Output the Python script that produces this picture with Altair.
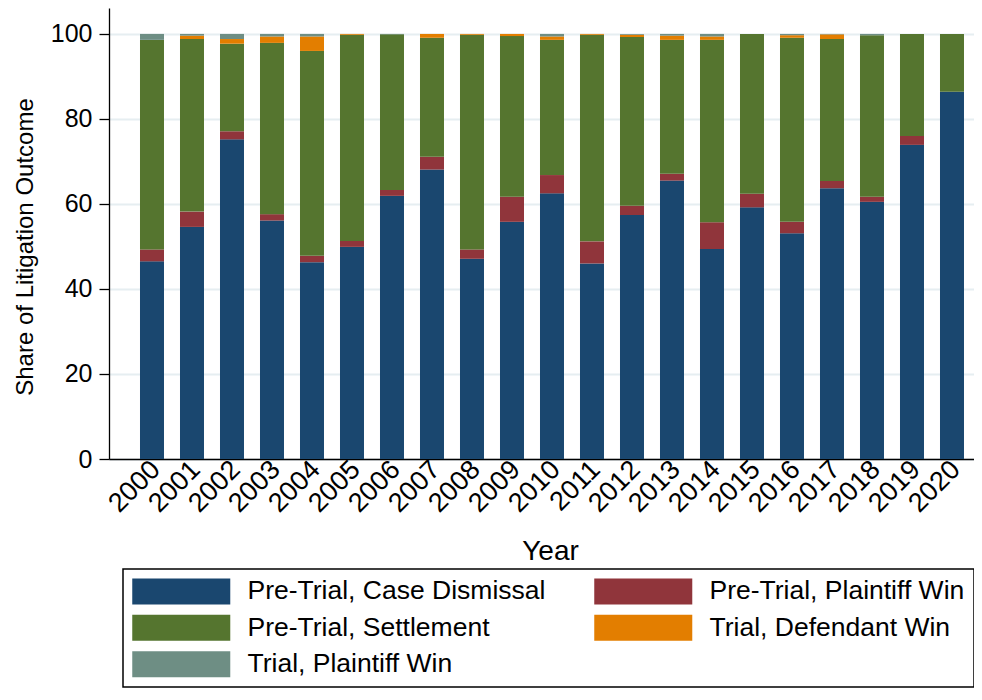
import altair as alt
import pandas as pd

years = [str(y) for y in range(2000, 2021)]
outcomes = [
    "Pre-Trial, Case Dismissal",
    "Pre-Trial, Plaintiff Win",
    "Pre-Trial, Settlement",
    "Trial, Defendant Win",
    "Trial, Plaintiff Win",
]
colors = ["#1a476f", "#90353b", "#55752f", "#e37e00", "#6e8e84"]

dismissal = [46.5, 54.6, 75.2, 56.1, 46.3, 49.9, 61.9, 68.1, 47.1, 55.8, 62.5,
             46.0, 57.4, 65.5, 49.4, 59.2, 53.1, 63.7, 60.5, 73.9, 86.4]
pre_plaintiff = [2.8, 3.6, 1.9, 1.5, 1.5, 1.4, 1.4, 3.0, 2.2, 5.9, 4.3,
                 5.2, 2.2, 1.6, 6.3, 3.2, 2.7, 1.7, 1.2, 2.1, 0.0]
settlement = [49.3, 40.6, 20.6, 40.3, 48.2, 48.5, 36.6, 28.0, 50.5, 37.8, 31.8,
              48.6, 39.7, 31.5, 42.9, 37.6, 43.3, 33.4, 38.0, 24.0, 13.6]
defendant_win = [0.0, 0.8, 1.1, 1.5, 3.4, 0.2, 0.0, 0.9, 0.2, 0.5, 0.8,
                 0.2, 0.5, 1.0, 0.8, 0.0, 0.6, 1.1, 0.0, 0.0, 0.0]
trial_plaintiff = [1.4, 0.4, 1.2, 0.6, 0.6, 0.0, 0.1, 0.0, 0.0, 0.0, 0.6,
                   0.0, 0.2, 0.4, 0.6, 0.0, 0.3, 0.1, 0.3, 0.0, 0.0]

series = [dismissal, pre_plaintiff, settlement, defendant_win, trial_plaintiff]

rows = []
for i, yr in enumerate(years):
    for k, (name, vals) in enumerate(zip(outcomes, series)):
        rows.append({"Year": yr, "Outcome": name, "Share": vals[i], "k": k})
df = pd.DataFrame(rows)

FONT = "Liberation Sans"

chart = (
    alt.Chart(df)
    .mark_bar()
    .encode(
        x=alt.X(
            "Year:N",
            sort=years,
            scale=alt.Scale(paddingInner=0.4, paddingOuter=0.5125, align=0.756),
            axis=alt.Axis(
                title="Year",
                labelAngle=-45,
                labelAlign="right",
                labelBaseline="middle",
                labelFont=FONT,
                labelFontSize=27,
                labelColor="black",
                labelPadding=6,
                labelOffset=4,
                ticks=False,
                grid=False,
                domainColor="black",
                domainWidth=1.3,
                titleFont=FONT,
                titleFontSize=28,
                titleFontWeight="normal",
                titleColor="black",
                titleX=441,
                titleY=78,
                titleBaseline="top",
            ),
        ),
        y=alt.Y(
            "Share:Q",
            stack="zero",
            scale=alt.Scale(domain=[0, 106.1], nice=False, zero=True),
            axis=alt.Axis(
                values=[0, 20, 40, 60, 80, 100],
                title="Share of Litigation Outcome",
                labelFont=FONT,
                labelFontSize=25,
                labelColor="black",
                labelPadding=7,
                tickSize=10,
                tickColor="black",
                tickWidth=1.3,
                domainColor="black",
                domainWidth=1.3,
                grid=True,
                gridColor="#e6eef1",
                gridWidth=2,
                titleFont=FONT,
                titleFontSize=24,
                titleFontWeight="normal",
                titleColor="black",
                titleX=-72,
                titleY=238.5,
            ),
        ),
        color=alt.Color(
            "Outcome:N",
            sort=outcomes,
            scale=alt.Scale(domain=outcomes, range=colors),
            legend=alt.Legend(
                title=None,
                orient="none",
                direction="horizontal",
                legendX=14,
                legendY=561,
                columns=2,
                symbolType="M-1,-1H6.54V1H-1Z",
                symbolSize=676,
                symbolStrokeWidth=0,
                labelFont=FONT,
                labelFontSize=26.5,
                labelColor="black",
                labelLimit=600,
                labelOffset=89,
                rowPadding=9.5,
                columnPadding=48,
                padding=9,
                strokeColor="black",
            ),
        ),
        order=alt.Order("k:Q", sort="ascending"),
    )
    .properties(
        width=865,
        height=451,
        autosize="none",
        padding={"left": 101, "top": 0, "right": 0, "bottom": 229},
    )
    .configure_view(stroke=None)
    .configure_legend(strokeWidth=1.5)
)

chart.save("out.html", embed_options={"renderer": "svg", "actions": False})
